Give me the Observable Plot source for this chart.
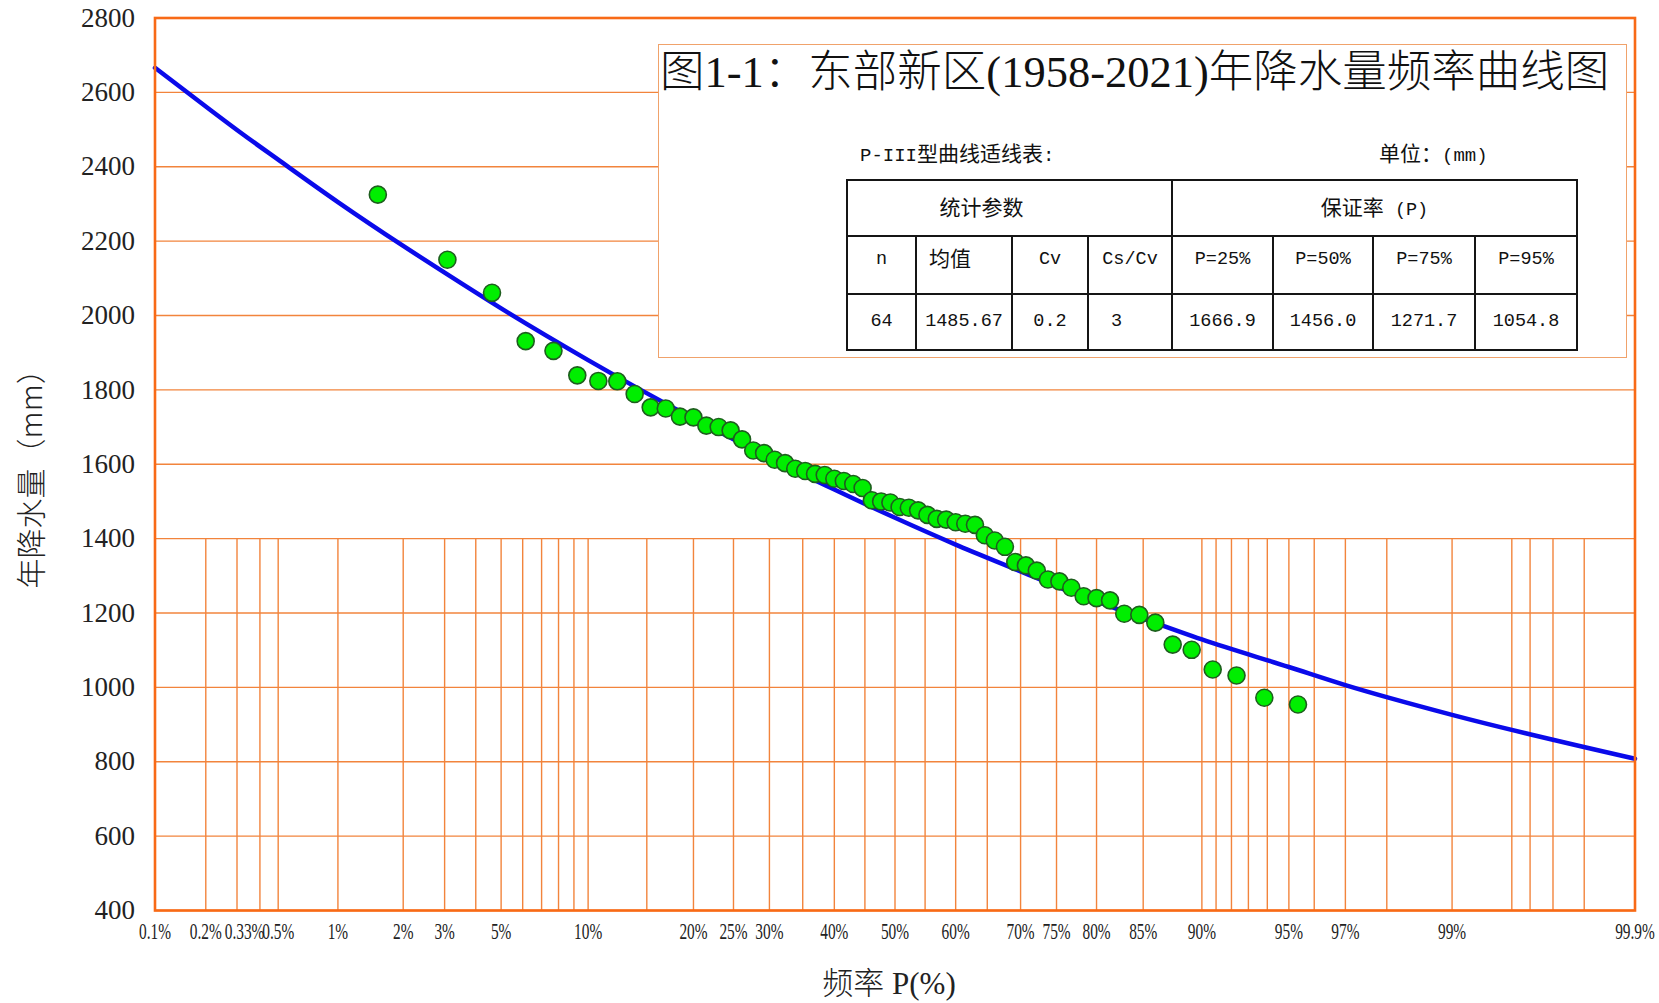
<!DOCTYPE html>
<html>
<head>
<meta charset="utf-8">
<script src="https://cdn.jsdelivr.net/npm/d3@7"></script>
<script src="https://cdn.jsdelivr.net/npm/@observablehq/plot@0.6"></script>
<style>
  html, body { margin: 0; padding: 0; background: #fff; }
  #wrap { position: relative; width: 1659px; height: 1003px; overflow: hidden; background: #fff; }
  #wrap svg { position: absolute; left: 0; top: 0; }
  .box { position: absolute; left: 658px; top: 44px; width: 969px; height: 314px; box-sizing: border-box;
         background: #fff; border: 1.5px solid #F0A26B; }
  .abs { position: absolute; white-space: nowrap; color: #111; }
  .title { font-family: "Liberation Serif", "Noto Sans CJK SC", serif; font-size: 44.5px; line-height: 1; font-weight: 300; }
  .lbl { font-family: "Liberation Mono", "Noto Sans CJK SC", monospace; font-size: 19px; line-height: 1; }
  .cjk { font-family: "Noto Sans CJK SC", sans-serif; font-size: 21px; }
  table.fit { position: absolute; left: 846px; top: 179px; border-collapse: collapse; table-layout: fixed;
              font-family: "Liberation Mono", "Noto Sans CJK SC", monospace; font-size: 18.5px; color: #111; }
  table.fit td { border: 2px solid #151515; padding: 0; text-align: center; vertical-align: middle; line-height: 1; }
</style>
</head>
<body>
<div id="wrap"></div>
<script>
// ---- Station statistics (1958-2021) ----
const statN = 64;
const statMean = 1485.67;
const statCv = 0.2;
const statCsCv = 3;

// Design values on the fitted P-III curve (guarantee rate, %)
const guaranteePct = [25, 50, 75, 95];
const guaranteeMm = [1666.9, 1456.0, 1271.7, 1054.8];

// Fitted P-III curve: exceedance frequency (%) and annual rainfall (mm)
const curvePct = [0.1, 0.2, 0.33, 0.5, 1, 2, 3, 5, 10, 20, 25, 30, 40, 50, 60, 70, 75, 80, 85, 90, 95, 97, 99, 99.9];
const curveMm  = [2666, 2562, 2484, 2419, 2305, 2187, 2115, 2019, 1880, 1723, 1666.9, 1617, 1532, 1456.0, 1384, 1312, 1271.7, 1231, 1185, 1129, 1054.8, 1006, 926, 808];

// Observed annual rainfall ranked in descending order, with empirical frequency (%)
const obsPct = [1.54, 3.08, 4.62, 6.15, 7.69, 9.23, 10.77, 12.31, 13.85, 15.38,
                16.92, 18.46, 20.00, 21.54, 23.08, 24.62, 26.15, 27.69, 29.23, 30.77,
                32.31, 33.85, 35.38, 36.92, 38.46, 40.00, 41.54, 43.08, 44.62, 46.15,
                47.69, 49.23, 50.77, 52.31, 53.85, 55.38, 56.92, 58.46, 60.00, 61.54,
                63.08, 64.62, 66.15, 67.69, 69.23, 70.77, 72.31, 73.85, 75.38, 76.92,
                78.46, 80.00, 81.54, 83.08, 84.62, 86.15, 87.69, 89.23, 90.77, 92.31,
                93.85, 95.38];
const obsMm = [2325, 2150, 2061, 1931, 1905, 1839, 1824, 1823, 1789, 1753,
               1750, 1728, 1726, 1704, 1700, 1691, 1667, 1637, 1630, 1612,
               1603, 1588, 1582, 1574, 1571, 1561, 1555, 1547, 1536, 1503,
               1500, 1497, 1485, 1483, 1476, 1464, 1453, 1451, 1444, 1440,
               1437, 1409, 1395, 1378, 1337, 1328, 1314, 1290, 1285, 1268,
               1245, 1240, 1234, 1198, 1195, 1174, 1115, 1101, 1048, 1032,
               972, 954];

// Axis ticks
const xTickPct = [0.1, 0.2, 0.33, 0.5, 1, 2, 3, 5, 10, 20, 25, 30, 40, 50, 60, 70, 75, 80, 85, 90, 95, 97, 99, 99.9];
const xTickLabels = ["0.1%", "0.2%", "0.33%", "0.5%", "1%", "2%", "3%", "5%", "10%", "20%", "25%", "30%", "40%", "50%",
                     "60%", "70%", "75%", "80%", "85%", "90%", "95%", "97%", "99%", "99.9%"];
// Probability-paper verticals (drawn in the lower band only)
const xGridPct = [0.2, 0.3, 0.4, 0.5, 1, 2, 3, 4, 5, 6, 7, 8, 9, 10, 15, 20, 25, 30, 35, 40, 45, 50, 55, 60, 65,
                  70, 75, 80, 85, 90, 91, 92, 93, 94, 95, 96, 97, 98, 99, 99.5, 99.6, 99.7, 99.8];
const yTicks = [400, 600, 800, 1000, 1200, 1400, 1600, 1800, 2000, 2200, 2400, 2600, 2800];

// Inverse standard normal CDF (Acklam), used to build the probability-paper x axis
function probit(p) {
  const a = [-3.969683028665376e+01, 2.209460984245205e+02, -2.759285104469687e+02, 1.383577518672690e+02, -3.066479806614716e+01, 2.506628277459239e+00];
  const b = [-5.447609879822406e+01, 1.615858368580409e+02, -1.556989798598866e+02, 6.680131188771972e+01, -1.328068155288572e+01];
  const c = [-7.784894002430293e-03, -3.223964580411365e-01, -2.400758277161838e+00, -2.549732539343734e+00, 4.374664141464968e+00, 2.938163982698783e+00];
  const d = [7.784695709041462e-03, 3.224671290700398e-01, 2.445134137142996e+00, 3.754408661907416e+00];
  const pl = 0.02425, ph = 1 - pl;
  let q, r;
  if (p < pl) {
    q = Math.sqrt(-2 * Math.log(p));
    return (((((c[0]*q+c[1])*q+c[2])*q+c[3])*q+c[4])*q+c[5]) / ((((d[0]*q+d[1])*q+d[2])*q+d[3])*q+1);
  }
  if (p > ph) {
    q = Math.sqrt(-2 * Math.log(1 - p));
    return -(((((c[0]*q+c[1])*q+c[2])*q+c[3])*q+c[4])*q+c[5]) / ((((d[0]*q+d[1])*q+d[2])*q+d[3])*q+1);
  }
  q = p - 0.5; r = q * q;
  return (((((a[0]*r+a[1])*r+a[2])*r+a[3])*r+a[4])*r+a[5])*q / (((((b[0]*r+b[1])*r+b[2])*r+b[3])*r+b[4])*r+1);
}
const zOf = pct => probit(pct / 100);

const curve = curvePct.map((p, i) => ({p, mm: curveMm[i]}));
const obs = obsPct.map((p, i) => ({p, mm: obsMm[i]}));
const xTickZ = xTickPct.map(zOf);
const labelOf = z => xTickLabels[d3.minIndex(xTickZ, t => Math.abs(t - z))];

const ORANGE = "#F2843C";
const FRAME = "#F86A16";

const chart = Plot.plot({
  width: 1659,
  height: 1003,
  marginLeft: 154.5,
  marginRight: 24.5,
  marginTop: 17.5,
  marginBottom: 93,
  style: {background: "#fff", fontFamily: "'Liberation Serif', 'Noto Sans CJK SC', serif", color: "#222"},
  x: {type: "linear", domain: [zOf(0.1), zOf(99.9)]},
  y: {domain: [400, 2800]},
  marks: [
    Plot.ruleY(yTicks, {stroke: ORANGE, strokeWidth: 1.4}),
    Plot.ruleX(xGridPct, {x: zOf, y1: 400, y2: 1400, stroke: ORANGE, strokeWidth: 1.4}),
    Plot.line(curve, {x: d => zOf(d.p), y: "mm", stroke: "#0A0AEA", strokeWidth: 4.5, curve: "monotone-x"}),
    Plot.dot(obs, {x: d => zOf(d.p), y: "mm", r: 8.5, fill: "#00EE00", stroke: "#1E5E1E", strokeWidth: 1.6}),
    Plot.frame({stroke: FRAME, strokeWidth: 2.6}),
    Plot.axisY({ticks: yTicks, tickFormat: d => String(d), tickSize: 0, tickPadding: 20, fontSize: 27, label: null}),
    Plot.axisX({ticks: xTickZ, tickFormat: labelOf, tickSize: 0, tickPadding: 11, fontSize: 24, label: null}),
    Plot.text(["年降水量（mm）"], {frameAnchor: "left", textAnchor: "middle", dx: -123, dy: 7, rotate: -90, fontSize: 30,
      fontFamily: "'Noto Sans CJK SC', sans-serif", fontWeight: 300, fill: "#222"}),
    Plot.text(["频率 P(%)"], {frameAnchor: "bottom", dx: -6, dy: 83, fontSize: 31, fontWeight: 300, fill: "#222"})
  ]
});

// Narrow the probability labels so neighbouring ticks stay readable
chart.querySelectorAll('g[aria-label="x-axis tick label"] text').forEach(t => {
  const tr = t.getAttribute("transform");
  if (tr) t.setAttribute("transform", tr + " scale(0.64,1)");
});

const wrap = document.getElementById("wrap");
wrap.appendChild(chart);

// Title and P-III fitting table
const box = document.createElement("div");
box.className = "box";
wrap.appendChild(box);

function addText(html, cls, left, top) {
  const el = document.createElement("div");
  el.className = "abs " + cls;
  el.style.left = left + "px";
  el.style.top = top + "px";
  el.innerHTML = html;
  wrap.appendChild(el);
  return el;
}
addText("图1-1：东部新区(1958-2021)年降水量频率曲线图", "title", 660, 50);
addText("P-III<span class='cjk'>型曲线适线表</span>:", "lbl", 860, 142);
addText("<span class='cjk'>单位：</span>(mm)", "lbl", 1379, 142);

const colW = [69, 96, 76, 84, 101, 100, 102, 102];
const pLabel = p => `P=${p}%`;
const table = document.createElement("table");
table.className = "fit";
table.innerHTML =
  `<colgroup>${colW.map(w => `<col style="width:${w}px">`).join("")}</colgroup>` +
  `<tr style="height:56px"><td colspan="4" style="padding-right:56px"><span class="cjk">统计参数</span></td>` +
  `<td colspan="4"><span class="cjk">保证率</span> (P)</td></tr>` +
  `<tr style="height:58px">` +
  `<td style="vertical-align:top;padding-top:14px">n</td>` +
  `<td style="vertical-align:top;padding-top:10px;text-align:left;padding-left:12px"><span class="cjk">均值</span></td>` +
  `<td style="vertical-align:top;padding-top:14px">Cv</td>` +
  `<td style="vertical-align:top;padding-top:14px">Cs/Cv</td>` +
  guaranteePct.map(p => `<td style="vertical-align:top;padding-top:14px">${pLabel(p)}</td>`).join("") +
  `</tr>` +
  `<tr style="height:56px">` +
  `<td>${statN}</td><td>${statMean.toFixed(2)}</td><td>${statCv}</td>` +
  `<td style="text-align:left;padding-left:22px">${statCsCv}</td>` +
  guaranteeMm.map(v => `<td>${v.toFixed(1)}</td>`).join("") +
  `</tr>`;
table.style.width = d3.sum(colW) + "px";
wrap.appendChild(table);
</script>
</body>
</html>
